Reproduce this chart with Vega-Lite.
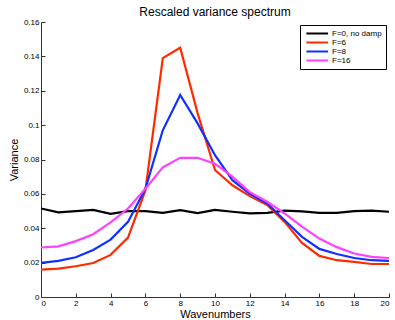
{
  "$schema": "https://vega.github.io/schema/vega-lite/v6.json",
  "width": 348,
  "height": 275,
  "autosize": {"type": "none"},
  "padding": {"left": 41, "top": 22, "right": 6, "bottom": 23},
  "background": "white",
  "title": {"text": "Rescaled variance spectrum", "font": "Liberation Sans", "fontSize": 12, "fontWeight": "normal", "color": "#000", "offset": -1},
  "config": {"view": {"stroke": null}},
  "datasets": {
    "d": [
      {"k": 0, "s": "F=0, no damp", "v": 0.0515}, {"k": 1, "s": "F=0, no damp", "v": 0.0492}, {"k": 2, "s": "F=0, no damp", "v": 0.0500}, {"k": 3, "s": "F=0, no damp", "v": 0.0507}, {"k": 4, "s": "F=0, no damp", "v": 0.0484}, {"k": 5, "s": "F=0, no damp", "v": 0.0500}, {"k": 6, "s": "F=0, no damp", "v": 0.0500}, {"k": 7, "s": "F=0, no damp", "v": 0.0490}, {"k": 8, "s": "F=0, no damp", "v": 0.0505}, {"k": 9, "s": "F=0, no damp", "v": 0.0488}, {"k": 10, "s": "F=0, no damp", "v": 0.0507}, {"k": 11, "s": "F=0, no damp", "v": 0.0496}, {"k": 12, "s": "F=0, no damp", "v": 0.0486}, {"k": 13, "s": "F=0, no damp", "v": 0.0490}, {"k": 14, "s": "F=0, no damp", "v": 0.0502}, {"k": 15, "s": "F=0, no damp", "v": 0.0498}, {"k": 16, "s": "F=0, no damp", "v": 0.0490}, {"k": 17, "s": "F=0, no damp", "v": 0.0489}, {"k": 18, "s": "F=0, no damp", "v": 0.0500}, {"k": 19, "s": "F=0, no damp", "v": 0.0503}, {"k": 20, "s": "F=0, no damp", "v": 0.0496},
      {"k": 0, "s": "F=6", "v": 0.0159}, {"k": 1, "s": "F=6", "v": 0.0165}, {"k": 2, "s": "F=6", "v": 0.0179}, {"k": 3, "s": "F=6", "v": 0.0198}, {"k": 4, "s": "F=6", "v": 0.0245}, {"k": 5, "s": "F=6", "v": 0.0346}, {"k": 6, "s": "F=6", "v": 0.0620}, {"k": 7, "s": "F=6", "v": 0.1390}, {"k": 8, "s": "F=6", "v": 0.1450}, {"k": 9, "s": "F=6", "v": 0.1070}, {"k": 10, "s": "F=6", "v": 0.0739}, {"k": 11, "s": "F=6", "v": 0.0650}, {"k": 12, "s": "F=6", "v": 0.0587}, {"k": 13, "s": "F=6", "v": 0.0535}, {"k": 14, "s": "F=6", "v": 0.0437}, {"k": 15, "s": "F=6", "v": 0.0315}, {"k": 16, "s": "F=6", "v": 0.0239}, {"k": 17, "s": "F=6", "v": 0.0214}, {"k": 18, "s": "F=6", "v": 0.0204}, {"k": 19, "s": "F=6", "v": 0.0192}, {"k": 20, "s": "F=6", "v": 0.0192},
      {"k": 0, "s": "F=8", "v": 0.0198}, {"k": 1, "s": "F=8", "v": 0.0210}, {"k": 2, "s": "F=8", "v": 0.0231}, {"k": 3, "s": "F=8", "v": 0.0274}, {"k": 4, "s": "F=8", "v": 0.0334}, {"k": 5, "s": "F=8", "v": 0.0437}, {"k": 6, "s": "F=8", "v": 0.0630}, {"k": 7, "s": "F=8", "v": 0.0970}, {"k": 8, "s": "F=8", "v": 0.1175}, {"k": 9, "s": "F=8", "v": 0.1010}, {"k": 10, "s": "F=8", "v": 0.0825}, {"k": 11, "s": "F=8", "v": 0.0680}, {"k": 12, "s": "F=8", "v": 0.0600}, {"k": 13, "s": "F=8", "v": 0.0544}, {"k": 14, "s": "F=8", "v": 0.0447}, {"k": 15, "s": "F=8", "v": 0.0350}, {"k": 16, "s": "F=8", "v": 0.0280}, {"k": 17, "s": "F=8", "v": 0.0250}, {"k": 18, "s": "F=8", "v": 0.0227}, {"k": 19, "s": "F=8", "v": 0.0214}, {"k": 20, "s": "F=8", "v": 0.0210},
      {"k": 0, "s": "F=16", "v": 0.0288}, {"k": 1, "s": "F=16", "v": 0.0295}, {"k": 2, "s": "F=16", "v": 0.0325}, {"k": 3, "s": "F=16", "v": 0.0365}, {"k": 4, "s": "F=16", "v": 0.0434}, {"k": 5, "s": "F=16", "v": 0.0515}, {"k": 6, "s": "F=16", "v": 0.0630}, {"k": 7, "s": "F=16", "v": 0.0754}, {"k": 8, "s": "F=16", "v": 0.0810}, {"k": 9, "s": "F=16", "v": 0.0810}, {"k": 10, "s": "F=16", "v": 0.0775}, {"k": 11, "s": "F=16", "v": 0.0700}, {"k": 12, "s": "F=16", "v": 0.0610}, {"k": 13, "s": "F=16", "v": 0.0554}, {"k": 14, "s": "F=16", "v": 0.0486}, {"k": 15, "s": "F=16", "v": 0.0410}, {"k": 16, "s": "F=16", "v": 0.0340}, {"k": 17, "s": "F=16", "v": 0.0290}, {"k": 18, "s": "F=16", "v": 0.0253}, {"k": 19, "s": "F=16", "v": 0.0233}, {"k": 20, "s": "F=16", "v": 0.0227}
    ]
  },
  "data": {"name": "d"},
  "mark": {"type": "line", "strokeWidth": 2.2, "clip": true},
  "encoding": {
    "x": {
      "field": "k", "type": "quantitative",
      "scale": {"domain": [0, 20], "nice": false, "zero": false},
      "axis": {"title": "Wavenumbers", "values": [0,2,4,6,8,10,12,14,16,18,20], "grid": false, "domainColor": "#333", "tickColor": "#333", "tickSize": -4, "labelPadding": 6, "labelFont": "Liberation Sans", "labelFontSize": 8, "labelColor": "#000", "titleFont": "Liberation Sans", "titleFontSize": 11, "titleFontWeight": "normal", "titleColor": "#000", "titlePadding": 1}
    },
    "y": {
      "field": "v", "type": "quantitative",
      "scale": {"domain": [0, 0.16], "nice": false},
      "axis": {"title": "Variance", "values": [0,0.02,0.04,0.06,0.08,0.1,0.12,0.14,0.16], "labelExpr": "format(datum.value, '~g')", "grid": false, "domainColor": "#333", "tickColor": "#333", "tickSize": -4, "labelPadding": 6, "labelFont": "Liberation Sans", "labelFontSize": 8, "labelColor": "#000", "titleFont": "Liberation Sans", "titleFontSize": 11, "titleFontWeight": "normal", "titleColor": "#000", "titlePadding": 4}
    },
    "color": {
      "field": "s", "type": "nominal",
      "scale": {"domain": ["F=0, no damp", "F=6", "F=8", "F=16"], "range": ["#000000", "#ff2a00", "#1030ff", "#ff40ff"]},
      "legend": {"title": null, "orient": "top-right", "offset": 3, "symbolType": "M-0.6,0H5.6", "symbolStrokeWidth": 2, "symbolSize": 49, "labelFont": "Liberation Sans", "labelFontSize": 8, "labelColor": "#000", "rowPadding": 0, "padding": 4, "labelOffset": 19, "strokeColor": "#000", "fillColor": "white", "labelLimit": 200}
    }
  }
}
